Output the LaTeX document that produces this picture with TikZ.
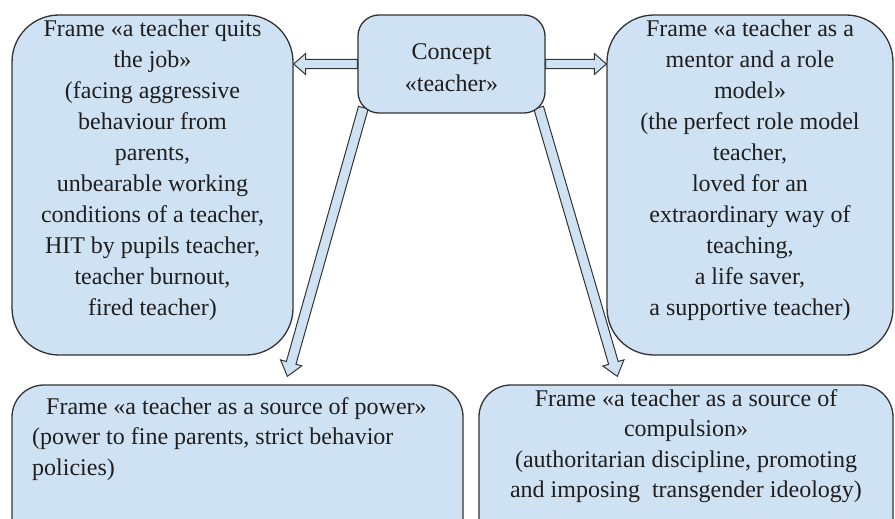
\documentclass[tikz,border=0pt]{standalone}
\usepackage{fontspec}
\setmainfont{Liberation Serif}
\usetikzlibrary{calc,backgrounds}
\definecolor{boxfill}{HTML}{CFE2F3}
\definecolor{edgecol}{HTML}{333333}
\definecolor{inkcol}{HTML}{1E1E1E}
\tikzset{
  bigbox/.style={draw=edgecol, fill=boxfill, line width=1.3pt, rounded corners=47pt, inner sep=0pt},
  lowbox/.style={draw=edgecol, fill=boxfill, line width=1.3pt, rounded corners=32pt, inner sep=0pt},
  conceptbox/.style={draw=edgecol, fill=boxfill, line width=1.3pt, rounded corners=21pt, inner sep=0pt},
  concepttext/.style={font=\fontsize{24}{32}\selectfont, text=inkcol, align=center, inner sep=0pt},
  toptext/.style={font=\fontsize{24}{31}\selectfont, text=inkcol, inner sep=0pt},
  lowtext/.style={font=\fontsize{24}{30.5}\selectfont, text=inkcol, inner sep=0pt},
  arrowbody/.style={draw=edgecol, fill=boxfill, line width=1pt, line join=miter},
}
% block arrow: #1 start, #2 tip, #3 name of neck coordinate, #4 half shaft, #5 half head, #6 head length
\newcommand{\blockarrow}[6]{%
  \coordinate (#3) at ($(#2)!#6!(#1)$);
  \draw[arrowbody] ($(#1)!#4!90:(#2)$) -- ($(#3)!#4!90:(#2)$) -- ($(#3)!#5!90:(#2)$) -- (#2)
    -- ($(#3)!#5!-90:(#2)$) -- ($(#3)!#4!-90:(#2)$) -- ($(#1)!#4!-90:(#2)$) -- cycle;
}
\begin{document}
\begin{tikzpicture}[x=1pt,y=-1pt]
\useasboundingbox (0,0) rectangle (895,519);
\clip (0,0) rectangle (895,519);

% boxes
\node[bigbox, minimum width=281pt, minimum height=340pt] (L) at (152.5,185) {};
\node[bigbox, minimum width=286pt, minimum height=340pt] (R) at (750,185) {};
\node[conceptbox, minimum width=187pt, minimum height=98pt] (C) at (451.5,64) {};
\node[lowbox, minimum width=451pt, minimum height=165pt] (BL) at (237.5,467.5) {};
\node[lowbox, minimum width=414pt, minimum height=165pt] (BR) at (686,467.5) {};

% texts
\node[concepttext] (Ct) at (451.5,68) {Concept\\«teacher»};
\node[toptext, align=center, anchor=north] (Lt) at (152.5,20) {Frame «a teacher quits\\the job»\\(facing aggressive\\behaviour from\\parents,\\unbearable working\\conditions of a teacher,\\HIT by pupils teacher,\\teacher burnout,\\fired teacher)};
\node[toptext, align=center, anchor=north] (Rt) at (750,20) {Frame «a teacher as a\\mentor and a role\\model»\\(the perfect role model\\teacher,\\loved for an\\extraordinary way of\\teaching,\\a life saver,\\a supportive teacher)};
\node[lowtext, align=left, anchor=north west] (BLt) at (32,397) {\hspace*{14pt}Frame «a teacher as a source of power»\\(power to fine parents, strict behavior\\policies)};
\node[lowtext, align=center, anchor=north] (BRt) at (686,389) {Frame «a teacher as a source of\\compulsion»\\(authoritarian discipline, promoting\\and imposing\ \ transgender ideology)};

% connectors
\coordinate (a1s) at (C.west);
\coordinate (a1e) at (L.east |- C.west);
\coordinate (a2s) at (C.east);
\coordinate (a2e) at (R.west |- C.east);
\coordinate (a3s) at ($(C.south west)+(6,-6)$);
\coordinate (a3e) at ($(BL.north west)+(276,-8)$);
\coordinate (a4s) at ($(C.south east)+(-7,-6)$);
\coordinate (a4e) at ($(BR.north west)+(139,-8)$);
\begin{pgfonlayer}{background}
\blockarrow{a1s}{a1e}{a1n}{4.7pt}{10.5pt}{12pt}
\blockarrow{a2s}{a2e}{a2n}{4.7pt}{10.5pt}{12pt}
\blockarrow{a3s}{a3e}{a3n}{5pt}{11pt}{14pt}
\blockarrow{a4s}{a4e}{a4n}{5pt}{11pt}{14pt}
\end{pgfonlayer}
\end{tikzpicture}
\end{document}
